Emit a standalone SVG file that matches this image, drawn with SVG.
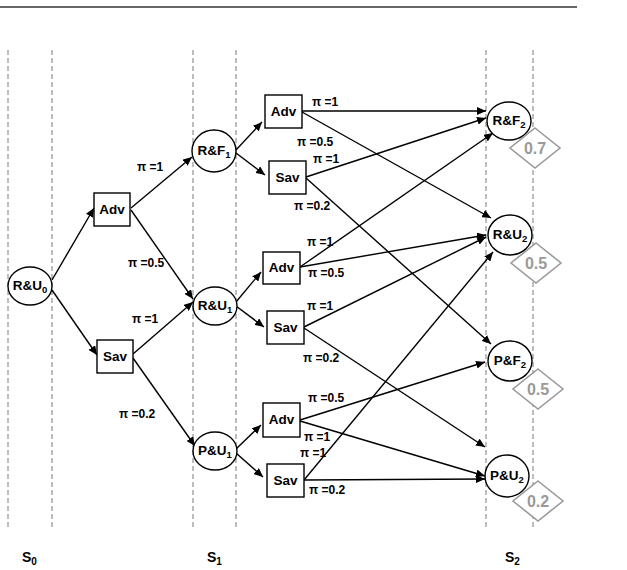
<svg xmlns="http://www.w3.org/2000/svg" width="627" height="570" viewBox="0 0 627 570">
<style>
.dash{stroke:#9a9a9a;stroke-width:1.3;stroke-dasharray:5 3;fill:none}
.edge{stroke:#000;stroke-width:1.4;fill:none;marker-end:url(#ah)}
.box{fill:#fff;stroke:#000;stroke-width:1.4}
.circ{fill:#fff;stroke:#000;stroke-width:1.4}
.lbl{font-family:"Liberation Sans",Arial,sans-serif;font-weight:bold;font-size:13.5px;fill:#000;text-anchor:middle}
.sub{font-size:9.5px}
.pi{font-family:"Liberation Sans",Arial,sans-serif;font-weight:bold;font-size:12px;fill:#000}
.dia{fill:#fff;stroke:#9a9a9a;stroke-width:1.6}
.val{font-family:"Liberation Sans",Arial,sans-serif;font-weight:bold;font-size:16px;fill:#9a9a9a;text-anchor:middle}
.st{font-family:"Liberation Sans",Arial,sans-serif;font-weight:bold;font-size:14px;fill:#000}
.ssub{font-size:10px}
</style>
<defs>
<marker id="ah" markerWidth="9" markerHeight="8" refX="9" refY="4" orient="auto" markerUnits="userSpaceOnUse">
<path d="M0,0 L9,4 L0,8 z" fill="#000"/>
</marker>
</defs>
<rect x="0" y="0" width="627" height="570" fill="#fff"/>
<line x1="0" y1="7" x2="577" y2="7" stroke="#333" stroke-width="1.6"/>
<g id="guides">
<line class="dash" x1="8" y1="50" x2="8" y2="530"/>
<line class="dash" x1="52" y1="50" x2="52" y2="530"/>
<line class="dash" x1="193" y1="50" x2="193" y2="530"/>
<line class="dash" x1="236" y1="50" x2="236" y2="530"/>
<line class="dash" x1="486" y1="50" x2="486" y2="530"/>
<line class="dash" x1="533" y1="50" x2="533" y2="530"/>
</g>
<g id="connectors">
<line class="edge" x1="52" y1="280" x2="94" y2="208"/>
<line class="edge" x1="52" y1="290" x2="97" y2="355"/>
<line class="edge" x1="131" y1="208" x2="192" y2="157"/>
<line class="edge" x1="131" y1="210" x2="193" y2="299"/>
<line class="edge" x1="133" y1="354" x2="193" y2="302"/>
<line class="edge" x1="133" y1="358" x2="195" y2="446"/>
<line class="edge" x1="236" y1="150" x2="262" y2="122"/>
<line class="edge" x1="236" y1="153" x2="265" y2="175"/>
<line class="edge" x1="236" y1="302" x2="261" y2="272"/>
<line class="edge" x1="236" y1="306" x2="264" y2="327"/>
<line class="edge" x1="236" y1="449" x2="261" y2="425"/>
<line class="edge" x1="236" y1="453" x2="263" y2="477"/>
<line class="edge" x1="302" y1="111" x2="486" y2="111"/>
<line class="edge" x1="302" y1="112" x2="491" y2="218"/>
<line class="edge" x1="306" y1="177" x2="486" y2="118"/>
<line class="edge" x1="306" y1="178" x2="491" y2="344"/>
<line class="edge" x1="300" y1="267" x2="493" y2="133"/>
<line class="edge" x1="300" y1="267" x2="486" y2="235"/>
<line class="edge" x1="304" y1="327" x2="486" y2="237"/>
<line class="edge" x1="304" y1="328" x2="485" y2="447"/>
<line class="edge" x1="300" y1="420" x2="485" y2="362"/>
<line class="edge" x1="300" y1="421" x2="485" y2="476"/>
<line class="edge" x1="304" y1="480" x2="493" y2="252"/>
<line class="edge" x1="304" y1="480" x2="485" y2="479"/>
</g>
<g id="pi-labels">
<text class="pi" x="137" y="171">π =1</text>
<text class="pi" x="128" y="267">π =0.5</text>
<text class="pi" x="132" y="323">π =1</text>
<text class="pi" x="119" y="418">π =0.2</text>
<text class="pi" x="312" y="106">π =1</text>
<text class="pi" x="297" y="146">π =0.5</text>
<text class="pi" x="313" y="163">π =1</text>
<text class="pi" x="294" y="210">π =0.2</text>
<text class="pi" x="307" y="246">π =1</text>
<text class="pi" x="308" y="277">π =0.5</text>
<text class="pi" x="307" y="310">π =1</text>
<text class="pi" x="303" y="362">π =0.2</text>
<text class="pi" x="308" y="402">π =0.5</text>
<text class="pi" x="304" y="441">π =1</text>
<text class="pi" x="300" y="457">π =1</text>
<text class="pi" x="309" y="494">π =0.2</text>
</g>
<g id="RU0"><ellipse class="circ" cx="30" cy="286" rx="22" ry="19"/><text class="lbl" x="30" y="290">R&amp;U<tspan class="sub" dy="3">0</tspan></text></g>
<g id="Adv1"><rect class="box" x="94" y="193" width="36" height="33"/><text class="lbl" x="112" y="214">Adv</text></g>
<g id="Sav1"><rect class="box" x="97" y="340" width="36" height="33"/><text class="lbl" x="115" y="361">Sav</text></g>
<g id="RF1"><ellipse class="circ" cx="214" cy="151" rx="22" ry="21"/><text class="lbl" x="214" y="155">R&amp;F<tspan class="sub" dy="3">1</tspan></text></g>
<g id="RU1"><ellipse class="circ" cx="215" cy="306" rx="22" ry="19"/><text class="lbl" x="215" y="310">R&amp;U<tspan class="sub" dy="3">1</tspan></text></g>
<g id="PU1"><ellipse class="circ" cx="215" cy="451" rx="22" ry="19"/><text class="lbl" x="215" y="455">P&amp;U<tspan class="sub" dy="3">1</tspan></text></g>
<g id="Adv2a"><rect class="box" x="265" y="95" width="37" height="33"/><text class="lbl" x="283.5" y="116">Adv</text></g>
<g id="Sav2a"><rect class="box" x="269" y="161" width="37" height="33"/><text class="lbl" x="287.5" y="182">Sav</text></g>
<g id="Adv2b"><rect class="box" x="263" y="252" width="37" height="32"/><text class="lbl" x="281.5" y="272">Adv</text></g>
<g id="Sav2b"><rect class="box" x="267" y="311" width="37" height="33"/><text class="lbl" x="285.5" y="332">Sav</text></g>
<g id="Adv2c"><rect class="box" x="263" y="403" width="37" height="34"/><text class="lbl" x="281.5" y="424">Adv</text></g>
<g id="Sav2c"><rect class="box" x="267" y="464" width="37" height="33"/><text class="lbl" x="285.5" y="485">Sav</text></g>
<g id="RF2"><ellipse class="circ" cx="509" cy="121" rx="22" ry="19"/><text class="lbl" x="509" y="125">R&amp;F<tspan class="sub" dy="3">2</tspan></text></g>
<g id="RU2"><ellipse class="circ" cx="510" cy="235" rx="22" ry="20"/><text class="lbl" x="510" y="239">R&amp;U<tspan class="sub" dy="3">2</tspan></text></g>
<g id="PF2"><ellipse class="circ" cx="510" cy="361" rx="22" ry="20"/><text class="lbl" x="510" y="365">P&amp;F<tspan class="sub" dy="3">2</tspan></text></g>
<g id="PU2"><ellipse class="circ" cx="507" cy="476" rx="22" ry="21"/><text class="lbl" x="507" y="480">P&amp;U<tspan class="sub" dy="3">2</tspan></text></g>
<g id="v1"><polygon class="dia" points="535,128 560,148 535,168 510,148"/><text class="val" x="535" y="154">0.7</text></g>
<g id="v2"><polygon class="dia" points="536,243 561,263 536,283 511,263"/><text class="val" x="536" y="269">0.5</text></g>
<g id="v3"><polygon class="dia" points="538,369 563,389 538,409 513,389"/><text class="val" x="538" y="395">0.5</text></g>
<g id="v4"><polygon class="dia" points="538,481 563,501 538,521 513,501"/><text class="val" x="538" y="507">0.2</text></g>
<g id="stages">
<text class="st" x="22" y="562">S<tspan class="ssub" dy="3">0</tspan></text>
<text class="st" x="207" y="562">S<tspan class="ssub" dy="3">1</tspan></text>
<text class="st" x="505" y="562">S<tspan class="ssub" dy="3">2</tspan></text>
</g>
</svg>
